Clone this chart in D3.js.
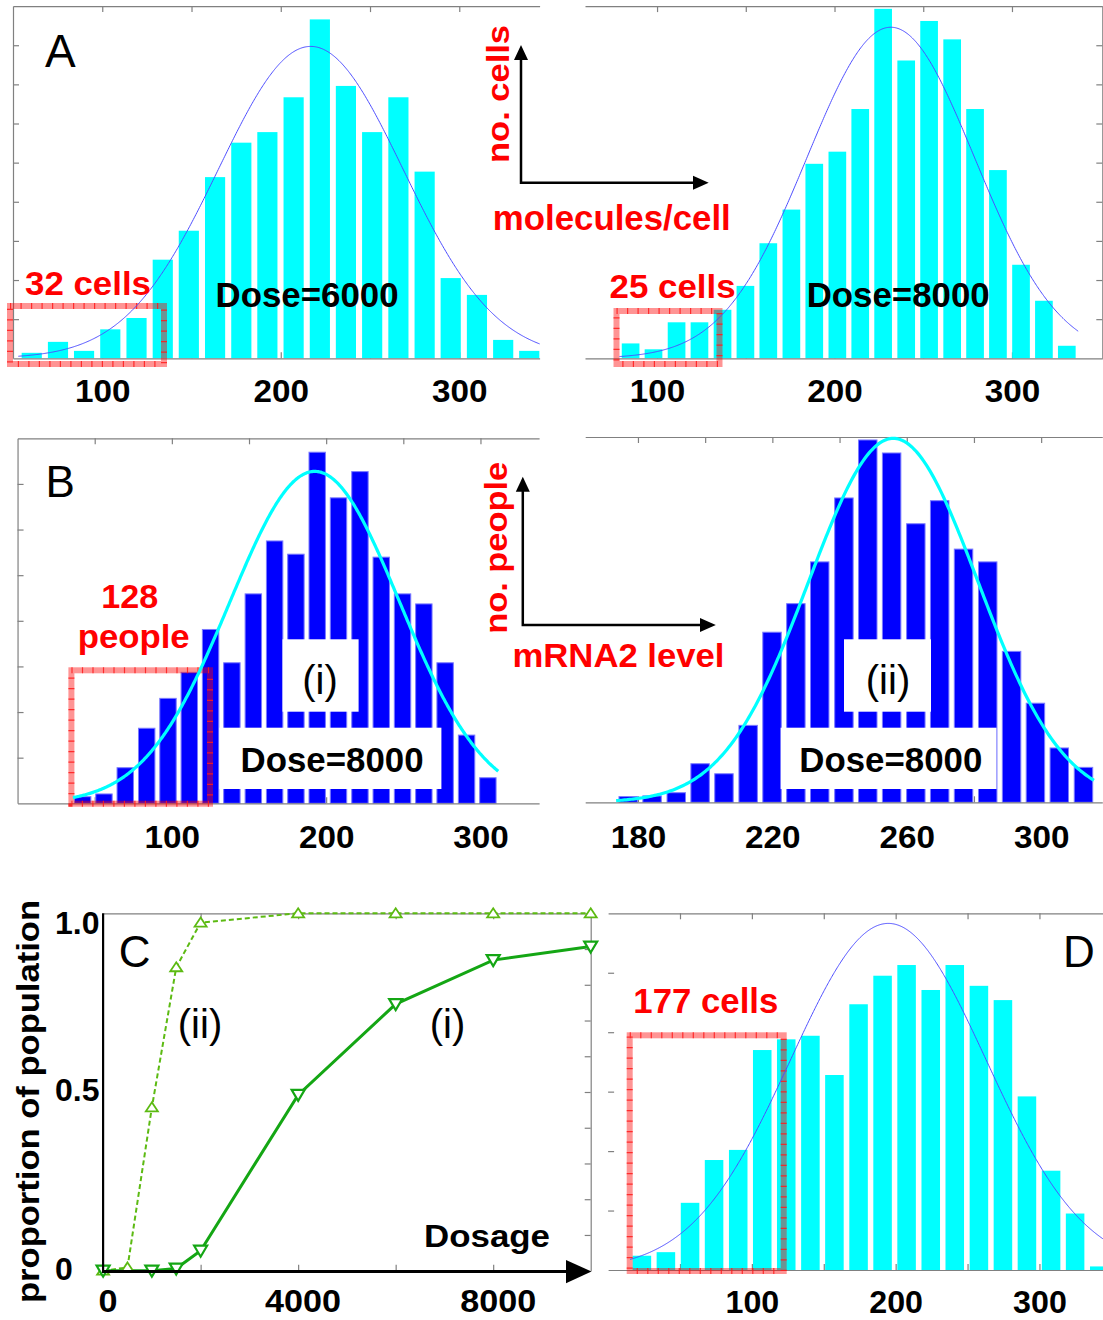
<!DOCTYPE html>
<html>
<head>
<meta charset="utf-8">
<script src="https://cdn.jsdelivr.net/npm/d3@7"></script>
<style>
  body { margin: 0; background: #fff; }
  svg text { font-family: "Liberation Sans", Arial, Helvetica, sans-serif; }
</style>
</head>
<body>
<div id="chart"></div>
<script>

// A: molecules per cell, dose 6000 (left) and 8000 (right)
const binsA1 = [60.5, 75.2, 89.8, 104.5, 119.2, 133.9, 148.5, 163.2, 177.9, 192.5, 207.2, 221.9, 236.5, 251.2, 265.9, 280.6, 295.2, 309.9, 324.6, 339.2];
const cellsA1 = [1.4, 4.2, 1.9, 7.4, 10.3, 25.2, 32.6, 46.3, 55.1, 57.8, 66.7, 86.6, 69.6, 57.8, 66.7, 47.7, 20.5, 16.2, 4.7, 1.9];
const fitA1 = [216.8, 51.7, 79.7];        // mean, sd, height of fitted normal
const fitRangeA1 = [53, 345];

const binsA2 = [85.1, 98.0, 111.0, 123.9, 136.9, 149.8, 162.7, 175.7, 188.6, 201.6, 214.5, 227.4, 240.4, 253.3, 266.3, 279.2, 292.1, 305.1, 318.0, 330.9];
const cellsA2 = [3.8, 2.3, 9.2, 9.2, 12.4, 18.5, 29.4, 38.0, 49.7, 52.8, 63.7, 89.3, 76.1, 86.2, 81.5, 63.7, 48.1, 23.9, 14.7, 3.2];
const fitA2 = [231.7, 47.2, 84.6];
const fitRangeA2 = [78.8, 337.3];

// B: mRNA2 level per person
const binsB1 = [42.2, 56.0, 69.8, 83.7, 97.5, 111.3, 125.1, 138.9, 152.8, 166.6, 180.4, 194.2, 208.0, 221.9, 235.7, 249.5, 263.3, 277.1, 291.0, 304.8];
const peopleB1 = [2.9, 4.1, 15.6, 32.9, 46.0, 57.4, 76.2, 61.6, 91.8, 115.0, 109.2, 153.9, 133.9, 145.4, 107.9, 91.8, 87.4, 61.6, 29.9, 11.2];
const fitB1 = [192.6, 55, 145.5];
const fitRangeB1 = [35.9, 311.5];

const binsB2 = [177.1, 184.2, 191.4, 198.5, 205.6, 212.8, 219.9, 227.0, 234.1, 241.3, 248.4, 255.5, 262.7, 269.8, 276.9, 284.1, 291.2, 298.3, 305.4, 312.6];
const peopleB2 = [2.5, 2.8, 4.2, 16.9, 12.5, 33.7, 74.5, 87.0, 105.3, 133.3, 158.7, 153.0, 122.0, 132.1, 110.9, 105.3, 66.1, 43.4, 23.8, 15.3];
const fitB2 = [256.0, 25.2, 159.4];
const fitRangeB2 = [173.5, 315.7];

// C: proportion of population vs dosage
const dosesI = [0, 1000, 1500, 2000, 4000, 6000, 8000, 10000];
const propI = [0, 0, 0.006, 0.056, 0.492, 0.746, 0.869, 0.907];
const dosesII = [0, 500, 1000, 1500, 2000, 4000, 6000, 8000, 10000];
const propII = [0, 0.009, 0.457, 0.849, 0.974, 1.0, 1.0, 1.0, 1.0];

// D
const binsD = [23.5, 40.2, 57.0, 73.7, 90.5, 107.2, 123.9, 140.7, 157.4, 174.2, 190.9, 207.6, 224.4, 241.1, 257.9, 274.6, 291.3, 308.1, 324.8, 341.6];
const cellsD = [4.8, 6.0, 22.6, 37.0, 40.4, 74.0, 77.6, 78.8, 65.6, 89.4, 99.0, 102.6, 94.2, 102.6, 95.6, 90.8, 58.4, 33.4, 19.0, 1.2];
const fitD = [194.9, 68, 116.6];
const fitRangeD = [15.3, 344.2];

// tick labels
const ticksA = [100, 200, 300];
const ticksB2 = [180, 220, 260, 300];
const ticksC = [0, 4000, 8000];
const ticksCyValues = [0, 0.5, 1];
const ticksCyLabels = ['0', '0.5', '1.0'];

const gray = '#808080';
const svg = d3.select('#chart').append('svg')
    .attr('width', 1103)
    .attr('height', 1320);

function label(g, str, x, y, o) {
    const t = g.append('text')
        .attr('x', x)
        .attr('y', y)
        .attr('font-size', o.size)
        .attr('font-weight', o.bold ? 'bold' : 'normal')
        .attr('fill', o.color || '#000')
        .attr('text-anchor', o.anchor || 'middle')
        .text(str);
    if (o.width) t.attr('textLength', o.width).attr('lengthAdjust', 'spacingAndGlyphs');
    if (o.rotate) t.attr('transform', `rotate(-90,${x},${y})`);
    return t;
}

function styleAxis(a) {
    a.attr('color', gray).attr('font-family', null).attr('font-size', null);
    a.selectAll('path, line').attr('stroke-width', 1.2);
}

function redBox(g, b) {
    g.append('rect')
        .attr('x', b[0]).attr('y', b[1]).attr('width', b[2]).attr('height', b[3])
        .attr('fill', 'none')
        .attr('stroke', 'rgba(255,0,0,0.42)')
        .attr('stroke-width', 6);
    g.append('rect')
        .attr('x', b[0]).attr('y', b[1]).attr('width', b[2]).attr('height', b[3])
        .attr('fill', 'none')
        .attr('stroke', '#ff1a1a')
        .attr('stroke-opacity', 0.85)
        .attr('stroke-width', 6)
        .attr('stroke-dasharray', '1.2 9.3');
}

function histogram(cfg) {
    const g = svg.append('g');
    const x = d3.scaleLinear().domain(cfg.xDomain).range(cfg.xRange);
    const y = d3.scaleLinear().domain(cfg.yDomain).range(cfg.yRange);
    const y0 = cfg.yRange[0], y1 = cfg.yRange[1];
    const n = cfg.bins.length;
    const bw = 0.77 * (cfg.bins[n - 1] - cfg.bins[0]) / (n - 1);

    // inward ticks along the bottom, under the bars
    g.append('g')
        .attr('transform', `translate(0,${y0})`)
        .call(d3.axisBottom(x).tickValues(cfg.ticks).tickSize(-6).tickSizeOuter(0).tickFormat(''))
        .call(styleAxis)
        .call(a => a.select('.domain').remove());

    g.selectAll('.bar')
        .data(cfg.bins)
        .enter()
        .append('rect')
        .classed('bar', true)
        .attr('x', d => x(d - bw / 2))
        .attr('width', x(cfg.bins[0] + bw) - x(cfg.bins[0]))
        .attr('y', (d, i) => y(cfg.counts[i]))
        .attr('height', (d, i) => y0 - y(cfg.counts[i]))
        .attr('fill', cfg.color)
        .attr('stroke', cfg.stroke || 'none')
        .attr('stroke-width', 1);

    g.append('g')
        .attr('transform', `translate(0,${y1})`)
        .call(d3.axisTop(x).tickValues(cfg.ticks).tickSize(-6).tickSizeOuter(0).tickFormat(''))
        .call(styleAxis);

    const fs = cfg.labelSize || 32;
    const bottom = g.append('g')
        .attr('transform', `translate(0,${y0})`)
        .call(d3.axisBottom(x).tickValues(cfg.labels).tickSize(0).tickPadding(cfg.labelPad).tickFormat(d3.format('d')))
        .call(styleAxis);
    bottom.selectAll('text')
        .attr('fill', '#000')
        .attr('font-size', fs)
        .attr('font-weight', 'bold')
        .attr('textLength', d => String(d).length * fs * 0.578)
        .attr('lengthAdjust', 'spacingAndGlyphs');

    if (cfg.side) {
        const left = cfg.side === 'left';
        const ax = (left ? d3.axisLeft(y) : d3.axisRight(y))
            .tickValues(cfg.sideTicks).tickSize(-6).tickSizeOuter(0).tickFormat('');
        const s = g.append('g')
            .attr('transform', `translate(${left ? cfg.xRange[0] : cfg.xRange[1]},0)`)
            .call(ax)
            .call(styleAxis);
        if (!cfg.spine) s.select('.domain').remove();
    }

    if (cfg.box) redBox(g, cfg.box);

    const [mu, sd, h] = cfg.fit;
    const fx = d3.range(cfg.fitRange[0], cfg.fitRange[1], 0.5).concat([cfg.fitRange[1]]);
    g.append('path')
        .datum(fx)
        .attr('fill', 'none')
        .attr('stroke', cfg.curve)
        .attr('stroke-width', cfg.curveWidth)
        .attr('d', d3.line()
            .x(d => x(d))
            .y(d => y(h * Math.exp(-0.5 * ((d - mu) / sd) ** 2))));

    (cfg.white || []).forEach(b => {
        g.append('rect')
            .attr('x', b[0]).attr('y', b[1]).attr('width', b[2]).attr('height', b[3])
            .attr('fill', '#fff');
    });
    return g;
}

// ---------- A ----------
const gA1 = histogram({
    bins: binsA1, counts: cellsA1, fit: fitA1, fitRange: fitRangeA1,
    xDomain: [50, 345], xRange: [13, 539.6], yDomain: [0, 90], yRange: [358.3, 6.1],
    ticks: d3.range(100, 301, 50), labels: ticksA, labelPad: 20.7,
    side: 'left', sideTicks: d3.range(10, 81, 10), spine: true,
    color: '#00ffff', curve: '#4d4dff', curveWidth: 1,
    box: [10, 306, 154, 58]
});
label(gA1, 'A', 45, 66.7, {size: 46, anchor: 'start'});
label(gA1, '32 cells', 88, 295, {size: 33, bold: true, color: '#ff0000', width: 126});
label(gA1, 'Dose=6000', 307, 306.7, {size: 35, bold: true, width: 183});

const gA2 = histogram({
    bins: binsA2, counts: cellsA2, fit: fitA2, fitRange: fitRangeA2,
    xDomain: [59.4, 350.9], xRange: [585, 1102.3], yDomain: [0, 90], yRange: [358.3, 6.1],
    ticks: d3.range(100, 301, 50), labels: ticksA, labelPad: 20.7,
    side: 'right', sideTicks: d3.range(10, 81, 10), spine: true,
    color: '#00ffff', curve: '#4d4dff', curveWidth: 1,
    box: [616.5, 311, 103, 53]
});
label(gA2, '25 cells', 672.6, 298.3, {size: 33, bold: true, color: '#ff0000', width: 126});
label(gA2, 'Dose=8000', 898.2, 306.7, {size: 35, bold: true, width: 183});

// axis sketch between the A histograms
const gAm = svg.append('g');
gAm.append('path')
    .attr('d', 'M521,58 V182.7 H694')
    .attr('fill', 'none').attr('stroke', '#000').attr('stroke-width', 2.5);
gAm.append('path').attr('d', 'M521,45 L528,60 L514,60 Z').attr('fill', '#000');
gAm.append('path').attr('d', 'M708.7,182.7 L693,175.7 L693,189.7 Z').attr('fill', '#000');
label(gAm, 'no. cells', 509, 94, {size: 32, bold: true, color: '#ff0000', rotate: true, width: 138});
label(gAm, 'molecules/cell', 611.8, 230, {size: 35, bold: true, color: '#ff0000', width: 238});

// ---------- B ----------
const gB1 = histogram({
    bins: binsB1, counts: peopleB1, fit: fitB1, fitRange: fitRangeB1,
    xDomain: [0, 338], xRange: [17.55, 539.1], yDomain: [0, 160], yRange: [803.3, 438.3],
    ticks: d3.range(50, 301, 50), labels: ticksA, labelPad: 22.3,
    side: 'left', sideTicks: d3.range(20, 141, 20), spine: true,
    color: '#0000ff', stroke: '#7a7aff', curve: '#00ffff', curveWidth: 3.2,
    box: [71.4, 670.3, 138.6, 133.4],
    white: [[282.5, 639.3, 76.1, 72.4], [219.3, 727.7, 222.1, 61.3]]
});
label(gB1, 'B', 45.6, 496.7, {size: 44, anchor: 'start'});
label(gB1, '128', 129.8, 608.3, {size: 33, bold: true, color: '#ff0000', width: 57});
label(gB1, 'people', 133.7, 648.3, {size: 34, bold: true, color: '#ff0000', width: 112});
label(gB1, '(i)', 320, 694.3, {size: 40});
label(gB1, 'Dose=8000', 332, 771.7, {size: 35, bold: true, width: 183});

const gB2 = histogram({
    bins: binsB2, counts: peopleB2, fit: fitB2, fitRange: fitRangeB2,
    xDomain: [164.3, 318.2], xRange: [585.2, 1102.3], yDomain: [0, 160], yRange: [802.3, 437],
    ticks: d3.range(180, 301, 20), labels: ticksB2, labelPad: 23.3,
    color: '#0000ff', stroke: '#7a7aff', curve: '#00ffff', curveWidth: 3.2,
    white: [[844, 639.3, 87, 72.4], [780.6, 727.7, 215.9, 61.3]]
});
label(gB2, '(ii)', 888, 694.3, {size: 40});
label(gB2, 'Dose=8000', 890.8, 771.7, {size: 35, bold: true, width: 183});

const gBm = svg.append('g');
gBm.append('path')
    .attr('d', 'M522.8,490 V625 H701')
    .attr('fill', 'none').attr('stroke', '#000').attr('stroke-width', 2.5);
gBm.append('path').attr('d', 'M522.8,476.7 L529.8,491.7 L515.8,491.7 Z').attr('fill', '#000');
gBm.append('path').attr('d', 'M715.8,625 L700,618 L700,632 Z').attr('fill', '#000');
label(gBm, 'no. people', 507.4, 547.8, {size: 32, bold: true, color: '#ff0000', rotate: true, width: 172});
label(gBm, 'mRNA2 level', 618.5, 667.3, {size: 34, bold: true, color: '#ff0000', width: 212});

// ---------- C ----------
const gC = svg.append('g');
const xC = d3.scaleLinear().domain([0, 10000]).range([103.1, 590.7]);
const yC = d3.scaleLinear().domain([0, 1]).range([1270.7, 913.3]);

gC.append('g')
    .attr('transform', `translate(0,${yC(1)})`)
    .call(d3.axisTop(xC).tickValues([2000, 4000, 6000, 8000]).tickSize(-6).tickSizeOuter(0).tickFormat(''))
    .call(styleAxis);
gC.append('g')
    .attr('transform', `translate(${xC(10000)},0)`)
    .call(d3.axisRight(yC).tickValues(d3.range(1, 10).map(d => d / 10)).tickSize(-6).tickSizeOuter(0).tickFormat(''))
    .call(styleAxis);
gC.append('g')
    .attr('transform', `translate(0,${yC(0)})`)
    .call(d3.axisBottom(xC).tickValues([2000, 4000, 6000, 8000]).tickSize(-6).tickSizeOuter(0).tickFormat(''))
    .call(styleAxis)
    .call(a => a.select('.domain').remove());

const lineC = d3.line().x(d => xC(d[0])).y(d => yC(d[1]));
const ptsII = dosesII.map((d, i) => [d, propII[i]]);
const ptsI = dosesI.map((d, i) => [d, propI[i]]);

gC.append('path')
    .datum(ptsII)
    .attr('fill', 'none')
    .attr('stroke', '#5cba12')
    .attr('stroke-width', 2)
    .attr('stroke-dasharray', '5 3')
    .attr('d', lineC);
gC.append('path')
    .datum(ptsI)
    .attr('fill', 'none')
    .attr('stroke', '#14a614')
    .attr('stroke-width', 3)
    .attr('d', lineC);

gC.selectAll('.up')
    .data(ptsII)
    .enter()
    .append('path')
    .classed('up', true)
    .attr('transform', d => `translate(${xC(d[0])},${yC(d[1])})`)
    .attr('d', 'M0,-5 L6,4 L-6,4 Z')
    .attr('fill', '#fff')
    .attr('stroke', '#5cba12')
    .attr('stroke-width', 1.8);
gC.selectAll('.down')
    .data(ptsI)
    .enter()
    .append('path')
    .classed('down', true)
    .attr('transform', d => `translate(${xC(d[0])},${yC(d[1])})`)
    .attr('d', 'M0,6 L6.5,-5 L-6.5,-5 Z')
    .attr('fill', '#fff')
    .attr('stroke', '#14a614')
    .attr('stroke-width', 2.2);

// black axes with arrow
gC.append('line')
    .attr('x1', xC(0)).attr('x2', xC(0))
    .attr('y1', yC(1)).attr('y2', 1273)
    .attr('stroke', '#000').attr('stroke-width', 2.2);
gC.append('line')
    .attr('x1', xC(0) - 1).attr('x2', 568)
    .attr('y1', 1271.6).attr('y2', 1271.6)
    .attr('stroke', '#000').attr('stroke-width', 3);
gC.append('path').attr('d', 'M591.5,1271.6 L566,1260 L566,1283.3 Z').attr('fill', '#000');

gC.selectAll('.xlab')
    .data(ticksC)
    .enter()
    .append('text')
    .classed('xlab', true)
    .attr('x', d => xC(d) + 5)
    .attr('y', 1311.7)
    .attr('text-anchor', 'middle')
    .attr('font-size', 32)
    .attr('font-weight', 'bold')
    .attr('textLength', d => String(d).length * 19)
    .attr('lengthAdjust', 'spacingAndGlyphs')
    .text(d => d);
gC.selectAll('.ylab')
    .data(ticksCyValues)
    .enter()
    .append('text')
    .classed('ylab', true)
    .attr('x', 55)
    .attr('y', d => Math.max(yC(d), 925) + 9)
    .attr('font-size', 32)
    .attr('font-weight', 'bold')
    .text((d, i) => ticksCyLabels[i]);

label(gC, 'C', 118.7, 966.7, {size: 44, anchor: 'start'});
label(gC, '(ii)', 200, 1038, {size: 40});
label(gC, '(i)', 447.5, 1038, {size: 40});
label(gC, 'Dosage', 487, 1246.7, {size: 31, bold: true, width: 126});
label(gC, 'proportion of population', 38.5, 1101.5, {size: 31, bold: true, rotate: true, width: 403});

// ---------- D ----------
const gD = histogram({
    bins: binsD, counts: cellsD, fit: fitD, fitRange: fitRangeD,
    xDomain: [0, 344.2], xRange: [608.1, 1103], yDomain: [0, 120], yRange: [1270, 913.3],
    ticks: d3.range(50, 301, 50), labels: ticksA, labelPad: 20.5, labelSize: 31,
    side: 'left', sideTicks: d3.range(20, 101, 20), spine: false,
    color: '#00ffff', curve: '#4d4dff', curveWidth: 1,
    box: [629.7, 1035.3, 154, 235.7]
});
label(gD, 'D', 1063, 966.7, {size: 44, anchor: 'start'});
label(gD, '177 cells', 705.8, 1013.3, {size: 35, bold: true, color: '#ff0000', width: 145});

</script>
</body>
</html>
